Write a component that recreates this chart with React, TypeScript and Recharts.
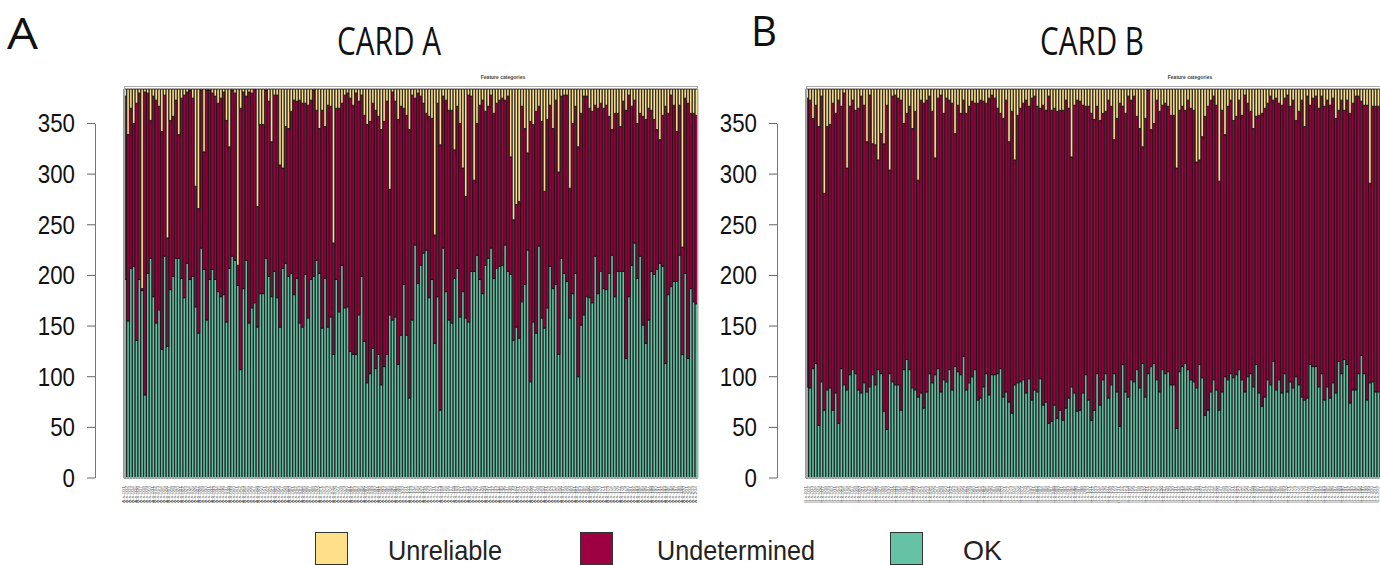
import React from 'react';
import { BarChart, Bar, XAxis, YAxis, Legend } from 'recharts';

// ---------- Card A ----------
const okA = [196,155,207,209,136,196,185,82,202,217,179,153,166,127,219,130,186,199,217,217,197,178,212,196,199,169,143,227,206,156,196,206,196,184,179,181,154,207,219,215,190,107,187,215,153,168,173,149,182,182,217,199,179,204,178,149,207,212,199,202,181,197,153,149,201,158,196,199,215,202,148,197,149,159,122,196,164,210,168,169,125,122,122,161,199,135,94,103,128,108,122,92,110,122,161,156,159,112,141,191,141,79,156,230,192,210,222,225,178,196,133,179,67,227,184,156,153,197,207,159,184,158,154,204,204,220,196,182,210,217,227,197,207,209,210,230,204,201,136,149,138,174,191,225,95,154,143,229,158,148,168,209,187,191,122,217,202,194,158,182,202,100,151,161,179,178,173,219,182,204,187,186,202,220,179,204,204,204,118,179,210,232,197,219,151,133,156,204,201,206,212,209,113,181,189,194,194,220,122,202,118,187,174,172];
const undA = [181,184,158,141,234,184,2,299,178,136,198,220,201,215,159,107,167,158,156,122,178,200,169,187,176,119,123,156,116,227,187,174,181,186,196,200,199,120,164,165,20,258,194,162,228,212,211,119,167,167,166,173,153,174,200,160,99,135,146,160,192,175,220,221,169,210,177,184,148,143,215,150,219,208,110,169,201,160,210,211,250,246,258,211,179,223,255,249,242,255,235,252,242,250,124,225,213,242,226,174,217,265,222,145,188,167,148,135,179,159,107,191,262,150,189,207,210,127,160,191,122,120,224,173,90,130,172,191,152,150,151,163,163,164,165,143,173,116,119,121,135,193,154,96,257,195,219,138,194,135,186,159,158,182,180,160,176,184,128,168,165,227,209,216,198,187,189,149,183,166,178,182,155,124,181,156,143,168,245,199,157,141,153,141,206,221,209,159,153,138,122,149,254,179,189,174,148,148,106,173,252,173,186,186];
const unrelA = [7,45,19,34,14,4,197,3,4,31,7,11,17,42,6,147,31,27,11,45,9,6,3,1,9,96,118,1,62,1,1,4,7,14,9,3,31,57,1,4,174,19,3,7,3,4,0,116,35,35,1,12,52,6,6,75,78,37,39,22,11,12,11,14,14,16,11,1,21,39,21,37,16,17,152,19,19,14,6,4,9,16,4,12,6,26,35,32,14,21,27,40,32,12,99,3,12,30,17,19,26,40,6,9,4,7,14,24,27,29,144,14,55,7,11,21,21,60,17,34,78,106,6,7,90,34,16,11,22,17,6,24,14,11,9,11,7,67,129,114,111,17,39,63,32,35,22,17,32,101,30,16,39,11,82,7,6,6,98,34,17,57,24,7,7,19,22,16,19,14,19,16,27,40,24,24,37,12,21,6,17,11,34,24,27,30,19,21,30,40,50,26,17,24,6,16,42,16,156,9,14,24,24,26];

// ---------- Card B ----------
const okB = [90,89,108,113,52,95,67,87,89,67,84,54,108,92,87,102,107,103,87,84,94,85,90,102,92,107,103,66,48,103,95,92,92,67,107,117,107,89,87,80,84,69,85,103,94,102,108,85,97,95,107,87,110,105,102,120,87,94,100,107,77,79,90,103,82,102,102,103,108,80,85,75,64,92,94,95,97,84,98,77,87,85,98,72,75,54,56,72,59,67,57,69,79,90,84,66,67,84,102,77,57,67,103,72,97,103,79,92,103,85,51,112,85,80,97,95,107,89,113,80,103,110,113,97,85,107,103,105,92,92,49,105,110,113,107,97,95,89,112,99,62,67,85,97,87,67,85,100,97,103,99,102,107,97,85,100,103,90,112,84,71,80,97,92,115,87,97,84,103,85,95,89,100,92,80,77,79,112,110,110,90,103,77,90,79,94,84,115,103,117,112,74,87,87,103,121,103,77,94,95,85,85];
const undB = [285,284,247,255,295,282,214,260,260,303,276,319,259,288,219,265,266,260,278,293,274,247,288,228,237,207,237,264,320,201,282,286,283,306,243,243,260,256,275,214,289,301,288,274,268,214,267,293,263,280,266,283,230,263,258,253,273,273,272,263,293,294,282,267,293,276,273,262,252,275,288,257,298,222,264,270,273,289,269,298,290,282,267,296,288,323,307,293,303,296,306,304,286,227,284,307,305,284,265,290,303,287,264,281,263,259,294,275,231,270,319,255,275,297,276,282,250,256,214,275,280,234,237,276,277,261,267,262,266,266,257,258,257,250,266,268,268,223,202,238,295,300,288,280,281,226,278,239,270,270,254,255,266,261,293,270,259,255,245,274,289,285,273,285,258,288,273,284,272,293,272,284,253,270,293,270,298,256,265,267,275,274,290,283,289,281,271,248,270,246,261,286,283,290,274,251,265,291,197,272,282,282];
const unrelB = [9,11,29,16,37,7,103,37,35,14,24,11,17,4,78,17,11,21,19,7,16,52,6,54,55,70,44,54,16,80,7,6,9,11,34,24,17,39,22,90,11,14,11,7,22,68,9,6,24,9,11,14,44,16,24,11,24,17,12,14,14,11,12,14,9,6,9,19,24,29,11,52,22,70,26,19,14,11,17,9,7,17,19,16,21,7,21,19,22,21,21,11,19,67,16,11,12,16,17,17,24,30,17,31,24,22,11,17,50,29,14,17,24,7,11,7,27,39,57,29,1,40,34,11,22,16,14,17,26,26,78,21,17,21,11,19,21,72,70,47,27,17,11,7,16,91,21,45,17,11,31,27,11,26,6,14,22,39,27,26,24,19,14,7,11,9,14,16,9,6,17,11,31,22,11,37,7,16,9,7,19,7,17,11,16,9,29,21,11,21,11,24,14,7,7,12,16,16,93,17,17,17];

// sample labels are unreadable in the picture; placeholder ids
const samplesA = okA.map((_, i) => `A-s-${String(i + 1).padStart(3, '0')}`);
const samplesB = okB.map((_, i) => `B-s-${String(i + 1).padStart(3, '0')}`);

const yTicks = [0, 50, 100, 150, 200, 250, 300, 350];
const seriesOrder = [
  { key: 'unrel', name: 'Unreliable', color: '#FEE08B' },
  { key: 'und', name: 'Undetermined', color: '#9E0142' },
  { key: 'ok', name: 'OK', color: '#66C2A5' },
];

const buildRows = (labels: string[], ok: number[], und: number[], unrel: number[]) =>
  labels.map((name, i) => ({ name, ok: ok[i], und: und[i], unrel: unrel[i] }));

const dataA = buildRows(samplesA, okA, undA, unrelA);
const dataB = buildRows(samplesB, okB, undB, unrelB);

const FONT = "'Liberation Sans', Arial, sans-serif";
const TITLE_FONT = "'Open Sans', 'Liberation Sans', sans-serif";

const YTick = (props: any) => {
  const { x, y, payload } = props;
  const s = String(payload.value);
  return (
    <text x={x} y={y} dy={9} textAnchor="end" fontFamily={FONT} fontSize={25}
      textLength={s.length * 12.4} lengthAdjust="spacingAndGlyphs" fill="#111">{s}</text>
  );
};

const XTick = (props: any) => {
  const { x, y, payload } = props;
  return (
    <text x={x} y={y} transform={`rotate(-90 ${x} ${y})`} textAnchor="end" fontFamily={FONT}
      fontSize={3.6} fill="#555" textLength={17} lengthAdjust="spacingAndGlyphs">{payload.value}</text>
  );
};

const LegendContent = () => {
  const items = [
    { ...seriesOrder[0], rx: 315, tx: 388, tl: 114 },
    { ...seriesOrder[1], rx: 580, tx: 657, tl: 158 },
    { ...seriesOrder[2], rx: 890, tx: 963, tl: 39 },
  ];
  return (
    <svg width={1380} height={45} style={{ display: 'block' }}>
      {items.map((it) => (
        <g key={it.key}>
          <rect x={it.rx + 0.5} y={12.5} width={32} height={32} fill={it.color} stroke="#333" strokeWidth={1} />
          <text x={it.tx} y={40} fontFamily={FONT} fontSize={28} textLength={it.tl}
            lengthAdjust="spacingAndGlyphs" fill="#222">{it.name}</text>
        </g>
      ))}
    </svg>
  );
};

const BAR_STROKE = '#111';
const BAR_SW = 0.85;

const Panel = ({ data, width, withLegend }: { data: any[]; width: number; withLegend: boolean }) => (
  <BarChart width={width} height={520} data={data} barCategoryGap={0} barGap={0}
    margin={{ top: 86, right: width === 720 ? 22 : 0, left: 0, bottom: 0 }}>
    <XAxis dataKey="name" interval={0} tick={<XTick />} axisLine={false} tickLine={false}
      height={42} padding={{ left: 29, right: 0 }} />
    <YAxis type="number" domain={[0, 387]} ticks={yTicks} width={95} tick={<YTick />}
      axisLine={false} tickLine={{ stroke: '#666' }} tickSize={8} tickMargin={12} />
    {withLegend && (
      <Legend layout="horizontal" verticalAlign="middle" align="center"
        wrapperStyle={{ position: 'absolute', left: 0, top: 520, width: 1380, height: 45 }}
        content={() => <LegendContent />} />
    )}
    <Bar dataKey="ok" name="OK" stackId="s" fill="#66C2A5" stroke={BAR_STROKE} strokeWidth={BAR_SW}
      barSize={3} isAnimationActive={false} />
    <Bar dataKey="und" name="Undetermined" stackId="s" fill="#9E0142" stroke={BAR_STROKE} strokeWidth={BAR_SW}
      barSize={3} isAnimationActive={false} />
    <Bar dataKey="unrel" name="Unreliable" stackId="s" fill="#FEE08B" stroke={BAR_STROKE} strokeWidth={BAR_SW}
      barSize={3} isAnimationActive={false} />
  </BarChart>
);

export default function App() {
  return (
    <div style={{ position: 'absolute', left: 0, top: 0, width: 1380, height: 565, overflow: 'hidden', background: '#fff' }}>
      <div style={{ position: 'absolute', left: 0, top: 0 }}>
        <Panel data={dataA} width={720} withLegend={true} />
      </div>
      <div style={{ position: 'absolute', left: 682, top: 0 }}>
        <Panel data={dataB} width={698} withLegend={false} />
      </div>
      <svg width={1380} height={565} style={{ position: 'absolute', left: 0, top: 0, pointerEvents: 'none' }}>
        <text x={7} y={49} fontFamily={TITLE_FONT} fontSize={44} textLength={31} lengthAdjust="spacingAndGlyphs" fill="#111">A</text>
        <text x={751} y={46} fontFamily={TITLE_FONT} fontSize={42} textLength={26} lengthAdjust="spacingAndGlyphs" fill="#111">B</text>
        <text x={337} y={55} fontFamily={TITLE_FONT} fontSize={38} textLength={104} lengthAdjust="spacingAndGlyphs" fill="#111">CARD A</text>
        <text x={1040} y={55} fontFamily={TITLE_FONT} fontSize={38} textLength={104} lengthAdjust="spacingAndGlyphs" fill="#111">CARD B</text>
        <text x={503} y={79} textAnchor="middle" fontFamily={FONT} fontSize={5} fontWeight="bold" fill="#444">Feature categories</text>
        <text x={1190} y={79} textAnchor="middle" fontFamily={FONT} fontSize={5} fontWeight="bold" fill="#444">Feature categories</text>
        <rect x={124.5} y={86.5} width={573} height={391} fill="none" stroke="#aaa" strokeWidth={1} />
        <rect x={806.5} y={86.5} width={574} height={391} fill="none" stroke="#aaa" strokeWidth={1} />
        <line x1={95.5} y1={124} x2={95.5} y2={478} stroke="#777" strokeWidth={1} />
        <line x1={777.5} y1={124} x2={777.5} y2={478} stroke="#777" strokeWidth={1} />
      </svg>
    </div>
  );
}
